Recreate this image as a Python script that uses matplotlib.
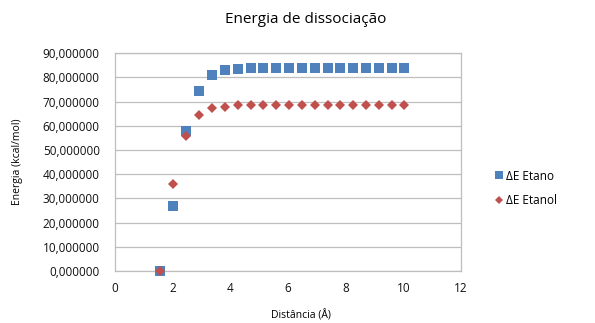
import matplotlib
matplotlib.use("Agg")
import matplotlib.pyplot as plt
from matplotlib.ticker import FuncFormatter, MultipleLocator

plt.rcParams['font.family'] = ['Open Sans', 'DejaVu Sans']

dist = [1.55, 2.02, 2.46, 2.91, 3.36, 3.82, 4.26, 4.70, 5.14, 5.58, 6.03, 6.48, 6.93, 7.37, 7.81, 8.26, 8.70, 9.15, 9.59, 10.03]
etano = [0.0, 26.8, 57.8, 74.4, 81.2, 83.2, 83.6, 84.0, 84.0, 84.0, 84.0, 84.0, 84.0, 84.0, 84.0, 84.0, 84.0, 84.0, 84.0, 84.0]
etanol = [0.0, 36.0, 55.9, 64.3, 67.3, 68.0, 68.5, 68.6, 68.6, 68.6, 68.6, 68.6, 68.6, 68.6, 68.6, 68.6, 68.6, 68.6, 68.6, 68.6]

fig = plt.figure(figsize=(5.95, 3.23), dpi=100)
ax = fig.add_axes([0.1933, 0.161, 0.5815, 0.674])

ax.plot(dist, etano, linestyle='none', marker='s', markersize=7.4, markeredgewidth=0,
        color='#4F81BD', label='ΔE Etano', zorder=3, clip_on=False)
ax.plot(dist, etanol, linestyle='none', marker='D', markersize=5.2, markeredgewidth=0,
        color='#C0504D', label='ΔE Etanol', zorder=4, clip_on=False)

ax.set_xlim(0, 12)
ax.set_ylim(0, 90)
ax.xaxis.set_major_locator(MultipleLocator(2))
ax.yaxis.set_major_locator(MultipleLocator(10))
ax.yaxis.set_major_formatter(FuncFormatter(lambda v, p: f"{v:.6f}".replace('.', ',')))
ax.grid(axis='y', color='#BEBEBE', linewidth=0.9)
ax.set_axisbelow(True)
for s in ax.spines.values():
    s.set_color('#BEBEBE')
    s.set_linewidth(0.9)
ax.tick_params(axis='y', length=0, labelsize=8.5, colors='#111111', pad=11)
ax.tick_params(axis='x', length=0, labelsize=8.5, colors='#111111', pad=8)

fig.text(0.513, 0.94, 'Energia de dissociação', fontsize=11, ha='center', va='center')
fig.text(0.505, 0.022, 'Distância (Å)', fontsize=7.5, ha='center', va='center')
fig.text(0.029, 0.50, 'Energia (kcal/mol)', fontsize=7.5, ha='center', va='center', rotation=90)

fig.legend(loc='upper left', bbox_to_anchor=(0.828, 0.475), frameon=False, fontsize=8.5,
           handletextpad=0.15, handlelength=1.0, labelspacing=1.0, borderpad=0, borderaxespad=0,
           markerscale=0.85)

fig.savefig('out.png', dpi=100)
